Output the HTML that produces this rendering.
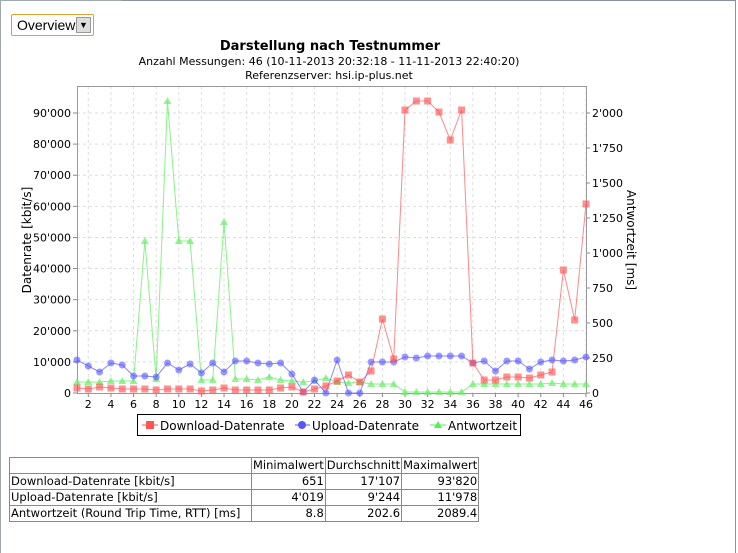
<!DOCTYPE html>
<html><head><meta charset="utf-8"><style>
body{margin:0;background:#fff;width:738px;height:553px;overflow:hidden;font-family:"DejaVu Sans","Liberation Sans",sans-serif}
#wrap{position:absolute;left:0;top:0;width:738px;height:553px}
.sel{position:absolute;left:11px;top:14px;width:83px;height:22px;border:1px solid #e0a030;border-radius:2px;box-sizing:border-box;background:#fff;font-family:"Liberation Sans",sans-serif;font-size:14px;line-height:20px;padding-left:5px;color:#000}
.sel .b{position:absolute;right:2px;top:2px;width:15px;height:16px;background:#ddd;border:1px solid #999;box-sizing:border-box;font-size:9px;text-align:center;line-height:14px}
table{position:absolute;left:9px;top:457px;border-collapse:collapse;font-family:"DejaVu Sans",sans-serif;font-size:11.5px}
td{border:1px solid #888;padding:0 1px;height:15px;line-height:15px;white-space:nowrap}
td.n{text-align:right}
</style></head><body><div id="wrap">
<svg width="738" height="553" style="position:absolute;left:0;top:0" id="s" font-family="DejaVu Sans, sans-serif">
<path d="M0.5 553 V0.5 H122" fill="none" stroke="#a0a8b0"/>
<path d="M122 0.5 H735.5 V553" fill="none" stroke="#8a939c"/>
<text x="330" y="50" font-size="13" font-weight="bold" text-anchor="middle">Darstellung nach Testnummer</text>
<text x="329" y="65" font-size="11" text-anchor="middle">Anzahl Messungen: 46 (10-11-2013 20:32:18 - 11-11-2013 22:40:20)</text>
<text x="329" y="79" font-size="11" text-anchor="middle">Referenzserver: hsi.ip-plus.net</text>
<g id="grid"></g>
<rect x="77.5" y="86.5" width="509" height="307" fill="none" stroke="#999"/>
<g id="ser"></g>
<text transform="translate(31,240) rotate(-90)" font-size="12" text-anchor="middle">Datenrate [kbit/s]</text>
<text transform="translate(627,240) rotate(90)" font-size="12" text-anchor="middle">Antwortzeit [ms]</text>
<rect x="137.5" y="414.5" width="383" height="21" fill="#fff" stroke="#000"/>
<line x1="142" y1="425" x2="158" y2="425" stroke="#f55"/><rect x="146" y="421" width="8" height="8" fill="#f55"/>
<text x="160" y="430" font-size="12">Download-Datenrate</text>
<line x1="295" y1="425" x2="310" y2="425" stroke="#55f"/><circle cx="302" cy="425" r="4" fill="#55f"/>
<text x="312" y="430" font-size="12">Upload-Datenrate</text>
<line x1="430" y1="425" x2="446" y2="425" stroke="#5e5"/><path d="M438 421 L442 428 L434 428Z" fill="#5e5"/>
<text x="448" y="430" font-size="12">Antwortzeit</text>
</svg>
<div class="sel">Overview<div class="b">&#9660;</div></div>
<table>
<tr><td style="width:239px"></td><td>Minimalwert</td><td>Durchschnitt</td><td>Maximalwert</td></tr>
<tr><td>Download-Datenrate [kbit/s]</td><td class="n">651</td><td class="n">17'107</td><td class="n">93'820</td></tr>
<tr><td>Upload-Datenrate [kbit/s]</td><td class="n">4'019</td><td class="n">9'244</td><td class="n">11'978</td></tr>
<tr><td>Antwortzeit (Round Trip Time, RTT) [ms]</td><td class="n">8.8</td><td class="n">202.6</td><td class="n">2089.4</td></tr>
</table>
</div>
<script>
var NS="http://www.w3.org/2000/svg";
function el(t,a,p){var e=document.createElementNS(NS,t);for(var k in a)e.setAttribute(k,a[k]);p.appendChild(e);return e;}
var g=document.getElementById('grid'),s=document.getElementById('ser');
function X(i){return 77+(i-1)*509/45;}
for(var v=0;v<=90000;v+=10000){var y=393-v*280/90000;
 if(v>0)el('line',{x1:77,x2:586,y1:y,y2:y,stroke:'#ddd','stroke-dasharray':'3,3'},g);
 el('line',{x1:73,x2:77,y1:y,y2:y,stroke:'#888'},g);
 var t=el('text',{x:71,y:y+4,'font-size':'11','text-anchor':'end'},g);t.textContent=v==0?'0':(v/1000)+"'000";}
var rl=['0','250','500','750','1\'000','1\'250','1\'500','1\'750','2\'000'];
for(var k=0;k<9;k++){var y=393-k*35;el('line',{x1:586,x2:590,y1:y,y2:y,stroke:'#888'},g);
 var t=el('text',{x:592,y:y+4,'font-size':'11'},g);t.textContent=rl[k];}
for(var i=2;i<=46;i+=2){var x=X(i);el('line',{x1:x,x2:x,y1:86,y2:393,stroke:'#ddd','stroke-dasharray':'3,3'},g);
 el('line',{x1:x,x2:x,y1:393,y2:397,stroke:'#888'},g);
 var t=el('text',{x:x,y:408,'font-size':'11','text-anchor':'middle'},g);t.textContent=i;}
var D=[388,389,387,388,389,389,389,390,389,389,389,391,390,388,390,390,390,390,388,387,392,389,386,381,375,382,371,319,359,110,101,101,112,140,110,363,380,380,377,377,378,375,372,270,320,204];
var U=[360,366,372,363,365,376,376,377,363,370,364,373,363,372,361,361,363,364,363,374,392,380,393,360,393,393,362,362,362,357,358,356,356,356,356,363,361,371,361,361,369,362,360,361,360,357];
var R=[382,382,382,381,381,381,241,379,101,241,241,380,380,222,379,379,380,377,380,381,382,381,378,382,383,382,384,384,384,392,392,392,392,392,392,384,384,384,384,384,384,384,383,384,384,384];
function line(arr,c){var p=arr.map(function(y,i){return X(i+1)+','+y}).join(' ');el('polyline',{points:p,fill:'none',stroke:c,'stroke-opacity':0.7},s);}
line(R,'#5e5');R.forEach(function(y,i){var x=X(i+1);el('path',{d:'M'+x+' '+(y-4)+' L'+(x+4)+' '+(y+3)+' L'+(x-4)+' '+(y+3)+'Z',fill:'#6e6','fill-opacity':0.7},s);});
line(U,'#55f');U.forEach(function(y,i){el('circle',{cx:X(i+1),cy:y,r:3.5,fill:'#55f','fill-opacity':0.6},s);});
line(D,'#f55');D.forEach(function(y,i){el('rect',{x:X(i+1)-3.5,y:y-3.5,width:7,height:7,fill:'#f55','fill-opacity':0.65},s);});
</script>
</body></html>
